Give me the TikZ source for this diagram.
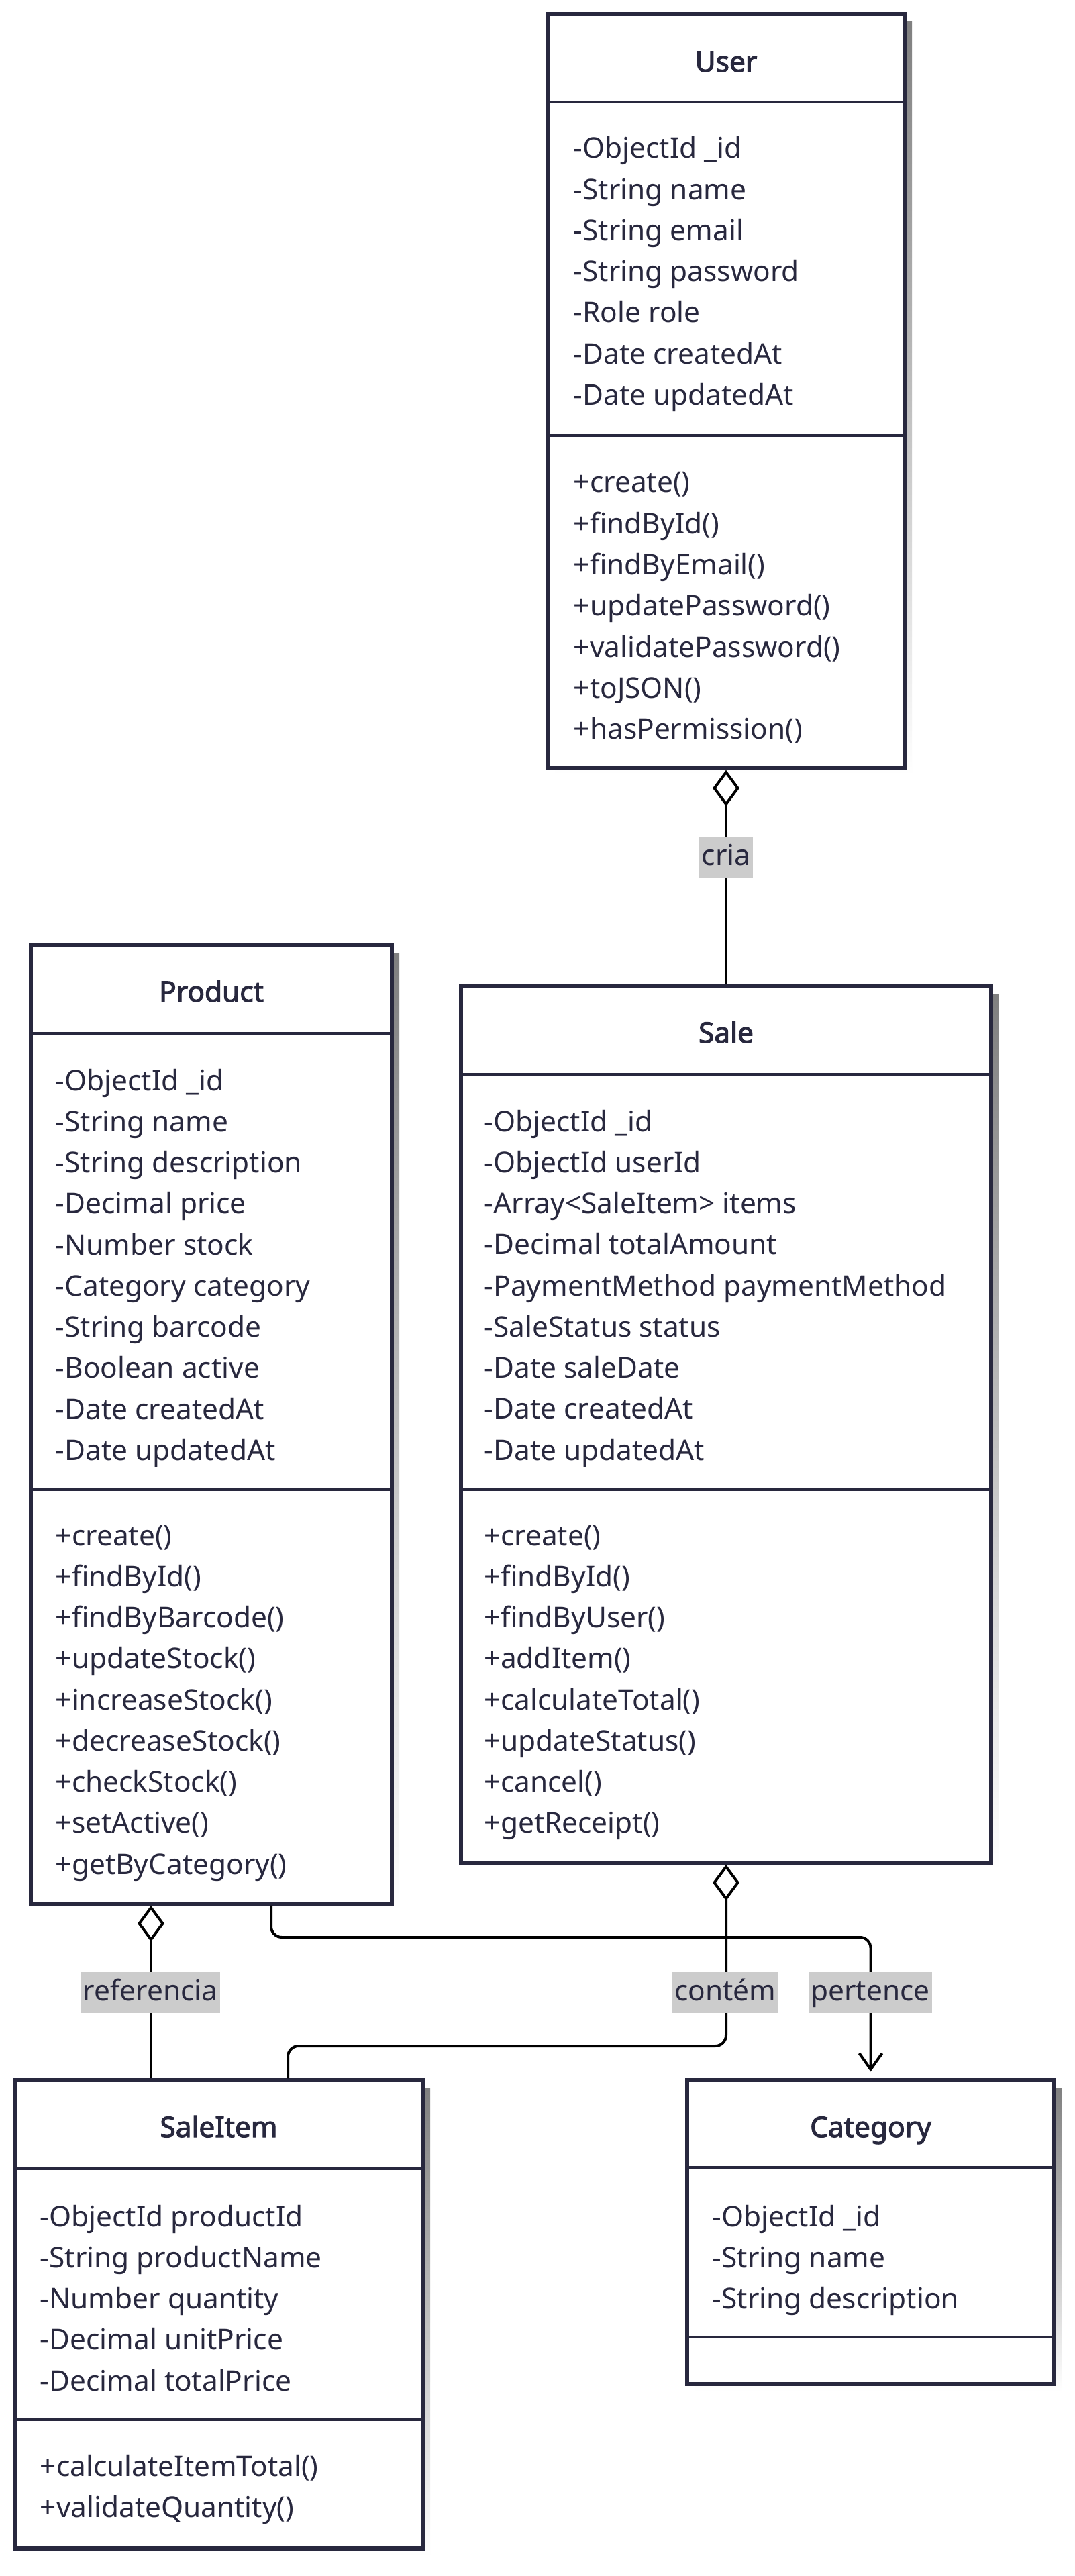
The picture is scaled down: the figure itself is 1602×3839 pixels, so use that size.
\documentclass[tikz,border=0pt]{standalone}
\usepackage{fontspec}
\setmainfont{Noto Sans}
\newfontfamily\titlefont{Noto Sans}[FakeBold=2.6]
\usetikzlibrary{arrows.meta,fit}
\definecolor{ink}{HTML}{28283E}
\definecolor{shade}{HTML}{F0F0F0}
\definecolor{lblbg}{HTML}{CCCCCC}
% #1 name, #2 L, #3 T, #4 R, #5 B, #6 title y, #7 divider 1, #8 divider 2, #9 title
\newcommand\umlclass[9]{%
  \fill[shade] (#2+11,#3+11) rectangle (#4+11,#5+11);
  \node[classbox, fit={(#2,#3) (#4,#5)}] (#1) {};
  \draw[divider] (#2,#7) -- (#4,#7);
  \draw[divider] (#2,#8) -- (#4,#8);
  \node[titletext] (#1-title) at ({(#2+#4)/2},#6+15) {#9};
}
% #1 prefix, #2 x, #3 y of first line, #4 list
\newcommand\umllines[4]{%
  \foreach \t [count=\i from 0] in {#4} \node[member] (#1\i) at (#2,#3+15+\i*61.25) {\t};
}
\begin{document}
\fontsize{10.6pt}{12.7pt}\selectfont
\begin{tikzpicture}[x=0.25pt,y=-0.25pt,
  classbox/.style={draw=ink, line width=1.3pt, fill=white, inner sep=0pt},
  divider/.style={draw=ink, line width=1.15pt},
  titletext/.style={anchor=base, text=ink, font=\titlefont, inner sep=0pt},
  member/.style={anchor=base west, text=ink, inner sep=0pt},
  conn/.style={draw=black, line width=1pt},
  agg/.style={arrows={{Diamond[open,length=13.5pt,width=10pt]}-}},
  dep/.style={arrows={-{Straight Barb[length=6pt,width=8.5pt]}}},
  lbl/.style={fill=lblbg, text=ink, inner xsep=0.9pt, inner ysep=2.125pt, text height=8.5pt, text depth=2.5pt}]
\fill[white] (0,0) rectangle (1602,3839);
\useasboundingbox (0,0) rectangle (1602,3839);

% ---- classes ----
\umlclass{user}{816}{21}{1348}{1145}{92}{152}{649}{User}
\umllines{user-a}{854}{221}{-ObjectId \_id,-String name,-String email,-String password,-Role role,-Date createdAt,-Date updatedAt}
\umllines{user-m}{854}{719}{+create(),+findById(),+findByEmail(),+updatePassword(),+validatePassword(),+toJSON(),+hasPermission()}

\umlclass{product}{46}{1409}{584}{2837}{1478}{1540}{2220}{Product}
\umllines{product-a}{82}{1610}{-ObjectId \_id,-String name,-String description,-Decimal price,-Number stock,-Category category,-String barcode,-Boolean active,-Date createdAt,-Date updatedAt}
\umllines{product-m}{82}{2288}{+create(),+findById(),+findByBarcode(),+updateStock(),+increaseStock(),+decreaseStock(),+checkStock(),+setActive(),+getByCategory()}

\umlclass{sale}{687}{1470}{1477}{2776}{1539}{1601}{2220}{Sale}
\umllines{sale-a}{721}{1671}{-ObjectId \_id,-ObjectId userId,-Array<SaleItem> items,-Decimal totalAmount,-PaymentMethod paymentMethod,-SaleStatus status,-Date saleDate,-Date createdAt,-Date updatedAt}
\umllines{sale-m}{721}{2288}{+create(),+findById(),+findByUser(),+addItem(),+calculateTotal(),+updateStatus(),+cancel(),+getReceipt()}

\umlclass{saleitem}{22}{3100}{630}{3798}{3170}{3232}{3606}{SaleItem}
\umllines{saleitem-a}{59}{3303}{-ObjectId productId,-String productName,-Number quantity,-Decimal unitPrice,-Decimal totalPrice}
\umllines{saleitem-m}{59}{3675}{+calculateItemTotal(),+validateQuantity()}

\umlclass{category}{1024}{3100}{1571}{3553}{3170}{3230}{3483}{Category}
\umllines{category-a}{1061}{3303}{-ObjectId \_id,-String name,-String description}

% ---- attach points ----
\coordinate (prod-ref) at (product.south -| 225,0);
\coordinate (si-ref) at (saleitem.north -| 225,0);
\coordinate (prod-cat) at (product.south -| 404,0);
\coordinate (si-in) at (saleitem.north -| 429,0);

% ---- connectors ----
\draw[conn, agg] (user.south) -- (sale.north);
\draw[conn, agg] (prod-ref) -- (si-ref);
\draw[conn, agg, rounded corners=4pt] (sale.south) -- (sale.south |- 0,3049) -- (si-in |- 0,3049) -- (si-in);
\draw[conn, dep, rounded corners=4pt, shorten >=2.5pt] (prod-cat) -- (prod-cat |- 0,2887) -- (category.north |- 0,2887) -- (category.north);

% ---- labels ----
\node[lbl] (l-cria) at (1082,1277) {cria};
\node[lbl] (l-ref) at (224,2969) {referencia};
\node[lbl] (l-cont) at (1081,2969) {contém};
\node[lbl] (l-pert) at (1297,2969) {pertence};
\end{tikzpicture}
\end{document}
